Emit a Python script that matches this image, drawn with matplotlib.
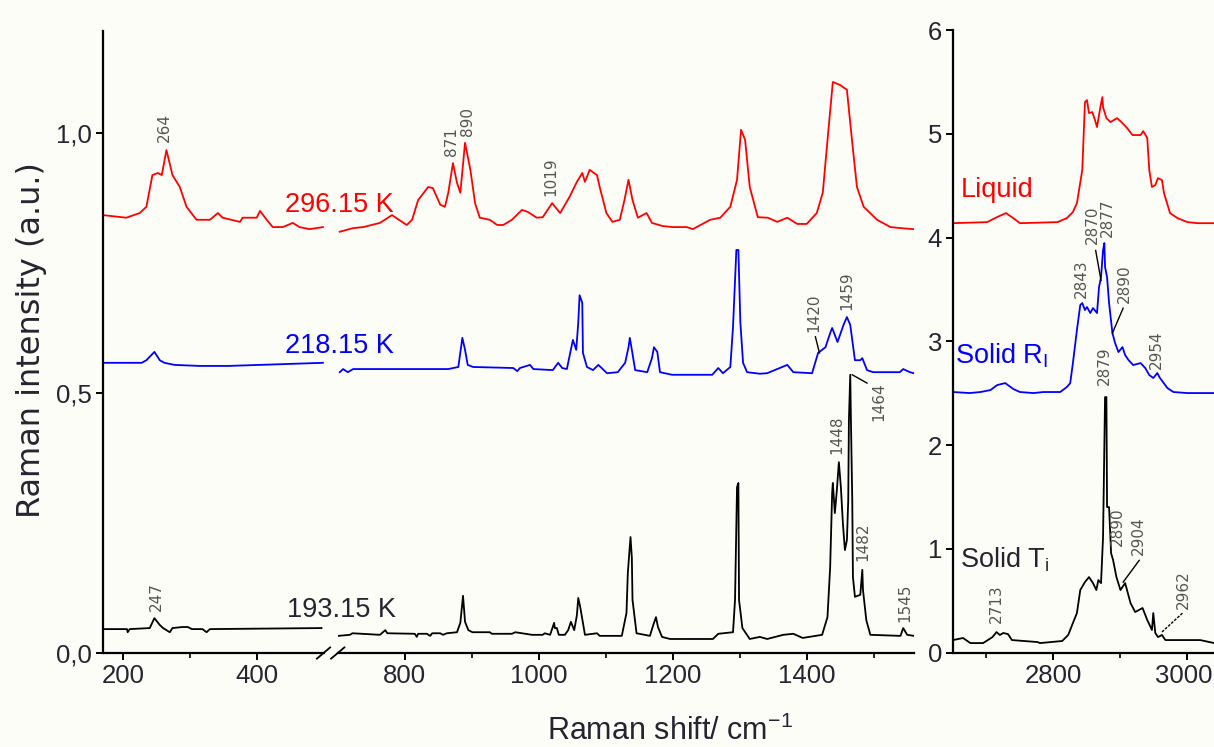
import matplotlib
matplotlib.use('Agg')
import matplotlib.pyplot as plt
import matplotlib.transforms as mtransforms
from matplotlib.ticker import FixedLocator, FuncFormatter

plt.rcParams['font.family'] = ['Liberation Sans', 'DejaVu Sans']

# ---- spectra, 296.15 K (liquid) ----
RED_LOW_X = [170, 205, 225, 235, 244, 252, 258, 265, 274, 285, 295, 310, 330,
             342, 349, 375, 379, 400, 405, 415, 424, 439, 454, 464, 479, 499]
RED_LOW_Y = [0.842, 0.837, 0.846, 0.858, 0.919, 0.923, 0.919, 0.967, 0.919, 0.896, 0.858, 0.833, 0.833,
             0.846, 0.837, 0.829, 0.837, 0.837, 0.850, 0.833, 0.819, 0.819, 0.827, 0.819, 0.815, 0.819]
RED_MID_X = [703, 723, 738, 763, 781, 803, 811, 820, 835, 842,
             853, 860, 865, 872, 878, 883, 890, 898, 905, 912,
             927, 938, 947, 960, 975, 984, 997, 1006, 1020, 1032,
             1046, 1057, 1065, 1069, 1076, 1087, 1091, 1101, 1110, 1121,
             1128, 1134, 1140, 1148, 1161, 1169, 1185, 1200, 1221, 1230,
             1256, 1271, 1286, 1296, 1302, 1308, 1315, 1327, 1342, 1356,
             1371, 1386, 1400, 1415, 1424, 1432, 1439, 1450, 1460, 1468,
             1475, 1485, 1505, 1525, 1540, 1560]
RED_MID_Y = [0.810, 0.817, 0.819, 0.827, 0.842, 0.823, 0.833, 0.871, 0.896, 0.894,
             0.862, 0.858, 0.885, 0.942, 0.904, 0.885, 0.981, 0.929, 0.865, 0.837,
             0.833, 0.823, 0.823, 0.833, 0.852, 0.848, 0.837, 0.838, 0.865, 0.846,
             0.877, 0.906, 0.923, 0.906, 0.929, 0.919, 0.896, 0.846, 0.829, 0.833,
             0.871, 0.910, 0.871, 0.837, 0.846, 0.827, 0.821, 0.819, 0.819, 0.815,
             0.833, 0.837, 0.858, 0.910, 1.006, 0.987, 0.896, 0.838, 0.837, 0.829,
             0.837, 0.825, 0.825, 0.846, 0.885, 1.000, 1.098, 1.092, 1.083, 0.981,
             0.896, 0.858, 0.833, 0.819, 0.817, 0.815]
RED_CH_X = [2650, 2701, 2716, 2729, 2740, 2750, 2806, 2820, 2829, 2835,
            2843, 2847, 2850, 2853, 2858, 2862, 2865, 2870, 2873, 2874,
            2879, 2885, 2895, 2903, 2910, 2918, 2930, 2934, 2940, 2943,
            2947, 2952, 2956, 2962, 2965, 2974, 2985, 3000, 3015, 3040]
RED_CH_Y = [4.139, 4.149, 4.198, 4.236, 4.188, 4.139, 4.149, 4.188, 4.246, 4.332,
            4.651, 5.306, 5.325, 5.200, 5.209, 5.132, 5.065, 5.257, 5.354, 5.257,
            5.151, 5.113, 5.151, 5.103, 5.055, 4.988, 4.988, 5.026, 4.959, 4.651,
            4.487, 4.506, 4.573, 4.554, 4.429, 4.236, 4.188, 4.149, 4.139, 4.139]

# ---- 218.15 K (solid RI) ----
BLUE_LOW_X = [170, 228, 235, 247, 255, 262, 277, 315, 337, 357, 499]
BLUE_LOW_Y = [0.558, 0.558, 0.563, 0.579, 0.563, 0.558, 0.554, 0.552, 0.552, 0.552, 0.558]
BLUE_MID_X = [703, 708, 715, 723, 865, 880, 886, 890, 894, 902,
              962, 968, 972, 987, 992, 1021, 1029, 1035, 1042, 1047,
              1051, 1056, 1059, 1061, 1065, 1066, 1072, 1081, 1089, 1102,
              1118, 1129, 1134, 1136, 1139, 1144, 1162, 1169, 1172, 1177,
              1181, 1199, 1259, 1268, 1275, 1286, 1290, 1295, 1298, 1301,
              1305, 1311, 1330, 1341, 1371, 1380, 1408, 1417, 1428, 1435,
              1438, 1446, 1455, 1460, 1465, 1472, 1480, 1483, 1490, 1499,
              1539, 1544, 1554, 1560]
BLUE_MID_Y = [0.540, 0.546, 0.540, 0.546, 0.546, 0.550, 0.606, 0.583, 0.554, 0.550,
              0.548, 0.542, 0.548, 0.554, 0.546, 0.544, 0.558, 0.548, 0.546, 0.577,
              0.602, 0.583, 0.635, 0.688, 0.673, 0.577, 0.550, 0.544, 0.554, 0.538,
              0.540, 0.558, 0.588, 0.606, 0.583, 0.544, 0.540, 0.567, 0.588, 0.579,
              0.540, 0.535, 0.535, 0.548, 0.538, 0.550, 0.627, 0.775, 0.775, 0.635,
              0.558, 0.540, 0.537, 0.538, 0.554, 0.540, 0.538, 0.577, 0.588, 0.615,
              0.625, 0.598, 0.631, 0.646, 0.631, 0.563, 0.563, 0.567, 0.544, 0.540,
              0.540, 0.546, 0.540, 0.538]
BLUE_CH_X = [2650, 2675, 2691, 2706, 2716, 2728, 2740, 2750, 2770, 2785,
             2810, 2820, 2825, 2829, 2835, 2840, 2843, 2847, 2850, 2855,
             2859, 2865, 2868, 2871, 2874, 2876, 2877, 2880, 2883, 2888,
             2892, 2897, 2903, 2907, 2912, 2919, 2930, 2937, 2943, 2949,
             2955, 2959, 2970, 2979, 3000, 3040]
BLUE_CH_Y = [2.512, 2.502, 2.512, 2.531, 2.579, 2.598, 2.541, 2.512, 2.502, 2.512,
             2.512, 2.560, 2.598, 2.791, 3.109, 3.350, 3.369, 3.302, 3.331, 3.273,
             3.321, 3.273, 3.523, 3.620, 3.880, 3.947, 3.716, 3.620, 3.369, 3.080,
             2.984, 2.897, 2.945, 2.868, 2.820, 2.772, 2.791, 2.743, 2.676, 2.647,
             2.695, 2.647, 2.551, 2.512, 2.502, 2.502]

# ---- 193.15 K (solid Ti) ----
BLACK_LOW_X = [170, 206, 207, 210, 240, 247, 255, 260, 270, 274, 289, 297, 303, 319, 325, 330, 497]
BLACK_LOW_Y = [0.046, 0.046, 0.040, 0.046, 0.048, 0.067, 0.054, 0.048, 0.040, 0.048,
               0.050, 0.050, 0.046, 0.046, 0.040, 0.046, 0.048]
BLACK_MID_X = [701, 718, 722, 763, 771, 774, 815, 818, 820, 833,
               838, 841, 853, 857, 863, 878, 883, 887, 890, 895,
               901, 927, 930, 960, 965, 990, 1006, 1009, 1017, 1023,
               1024, 1027, 1030, 1039, 1044, 1048, 1053, 1057, 1059, 1062,
               1066, 1069, 1087, 1091, 1124, 1131, 1133, 1137, 1139, 1140,
               1146, 1166, 1171, 1175, 1178, 1184, 1196, 1260, 1268, 1290,
               1293, 1296, 1298, 1299, 1304, 1315, 1330, 1341, 1365, 1380,
               1394, 1423, 1431, 1435, 1438, 1439, 1442, 1445, 1448, 1451,
               1454, 1457, 1460, 1462, 1463, 1465, 1466, 1468, 1469, 1472,
               1480, 1483, 1484, 1489, 1495, 1540, 1544, 1550, 1560]
BLACK_MID_Y = [0.033, 0.035, 0.038, 0.035, 0.044, 0.038, 0.037, 0.031, 0.037, 0.037,
               0.033, 0.038, 0.038, 0.035, 0.038, 0.040, 0.058, 0.110, 0.060, 0.044,
               0.040, 0.040, 0.037, 0.037, 0.040, 0.035, 0.035, 0.038, 0.035, 0.058,
               0.048, 0.048, 0.035, 0.035, 0.044, 0.060, 0.044, 0.073, 0.106, 0.088,
               0.058, 0.035, 0.038, 0.033, 0.033, 0.077, 0.154, 0.223, 0.183, 0.102,
               0.038, 0.033, 0.054, 0.069, 0.050, 0.031, 0.027, 0.027, 0.037, 0.040,
               0.102, 0.319, 0.327, 0.102, 0.048, 0.027, 0.031, 0.027, 0.035, 0.037,
               0.029, 0.035, 0.069, 0.165, 0.308, 0.327, 0.269, 0.313, 0.367, 0.319,
               0.250, 0.198, 0.217, 0.294, 0.448, 0.535, 0.448, 0.294, 0.146, 0.108,
               0.112, 0.160, 0.121, 0.063, 0.035, 0.033, 0.048, 0.035, 0.033]
BLACK_CH_X = [2650, 2665, 2676, 2695, 2709, 2715, 2720, 2725, 2732, 2738,
              2776, 2780, 2813, 2822, 2829, 2835, 2840, 2847, 2853, 2859,
              2864, 2867, 2871, 2874, 2877, 2879, 2880, 2883, 2886, 2889, 2894,
              2900, 2907, 2915, 2922, 2933, 2940, 2947, 2949, 2952, 2956,
              2962, 2967, 3019, 3040]
BLACK_CH_Y = [0.122, 0.142, 0.093, 0.093, 0.151, 0.199, 0.171, 0.190, 0.180, 0.122,
              0.103, 0.093, 0.113, 0.171, 0.286, 0.382, 0.604, 0.681, 0.729, 0.671,
              0.604, 0.700, 0.671, 1.115, 2.463, 2.463, 1.403, 1.403, 0.960, 0.893, 0.729,
              0.604, 0.671, 0.479, 0.392, 0.431, 0.315, 0.219, 0.382, 0.190, 0.151,
              0.171, 0.122, 0.122, 0.093]

# peak labels: (text, x, y)
PEAKS_LOW = [('264', 262, 1.010), ('247', 250, 0.108)]
PEAKS_MID = [('871', 870, 0.983), ('890', 893, 1.022), ('1019', 1018, 0.915),
             ('1420', 1410, 0.654), ('1459', 1460, 0.696), ('1448', 1445, 0.419),
             ('1464', 1508, 0.483), ('1482', 1484, 0.213), ('1545', 1547, 0.096)]
PEAKS_CH = [('2870', 2858, 4.12), ('2877', 2880, 4.19), ('2843', 2842, 3.60),
            ('2890', 2906, 3.56), ('2954', 2953, 2.92), ('2879', 2876, 2.77),
            ('2890', 2895, 1.21), ('2904', 2927, 1.13), ('2962', 2994, 0.61),
            ('2713', 2715, 0.47)]

RED = '#ff0000'
BLUE = '#0000ff'
BLACK = '#000000'
BG = '#fdfdf7'
TXT = '#262430'
GREY = '#555555'

fig = plt.figure(figsize=(12.14, 7.47), dpi=100, facecolor=BG)
ax1 = fig.add_axes([0.0848, 0.1258, 0.1817, 0.8327])
ax2 = fig.add_axes([0.2782, 0.1258, 0.4746, 0.8327])
ax3 = fig.add_axes([0.7850, 0.1262, 0.2152, 0.8336])

for ax in (ax1, ax2, ax3):
    ax.set_facecolor('none')
    for s in ('top', 'right'):
        ax.spines[s].set_visible(False)
    ax.spines['left'].set_linewidth(1.6)
    ax.spines['bottom'].set_linewidth(1.6)
    ax.tick_params(which='major', direction='out', length=5, width=1.4,
                   labelsize=18.5, labelcolor=TXT, pad=3)
    ax.tick_params(which='minor', direction='out', length=3.5, width=1.2)

ax2.spines['left'].set_visible(False)
ax2.tick_params(axis='y', which='both', left=False, labelleft=False)

lw = 1.3
ax1.plot(RED_LOW_X, RED_LOW_Y, color=RED, lw=lw)
ax1.plot(BLUE_LOW_X, BLUE_LOW_Y, color=BLUE, lw=lw)
ax1.plot(BLACK_LOW_X, BLACK_LOW_Y, color=BLACK, lw=lw)
ax2.plot(RED_MID_X, RED_MID_Y, color=RED, lw=lw)
ax2.plot(BLUE_MID_X, BLUE_MID_Y, color=BLUE, lw=lw)
ax2.plot(BLACK_MID_X, BLACK_MID_Y, color=BLACK, lw=lw)
ax3.plot(RED_CH_X, RED_CH_Y, color=RED, lw=lw)
ax3.plot(BLUE_CH_X, BLUE_CH_Y, color=BLUE, lw=lw)
ax3.plot(BLACK_CH_X, BLACK_CH_Y, color=BLACK, lw=lw)

ax1.set_xlim(170, 500)
ax2.set_xlim(700, 1560)
ax3.set_xlim(2650, 3040)
ax1.set_ylim(0, 1.196)
ax2.set_ylim(0, 1.196)
ax3.set_ylim(0, 6)

ax1.xaxis.set_major_locator(FixedLocator([200, 400]))
ax1.xaxis.set_minor_locator(FixedLocator([300]))
ax2.xaxis.set_major_locator(FixedLocator([800, 1000, 1200, 1400]))
ax2.xaxis.set_minor_locator(FixedLocator([900, 1100, 1300, 1500]))
ax3.xaxis.set_major_locator(FixedLocator([2800, 3000]))
ax3.xaxis.set_minor_locator(FixedLocator([2700, 2900]))
ax1.yaxis.set_major_locator(FixedLocator([0, 0.5, 1.0]))
ax1.yaxis.set_major_formatter(FuncFormatter(lambda v, p: f'{v:.1f}'.replace('.', ',')))
ax3.yaxis.set_major_locator(FixedLocator([0, 1, 2, 3, 4, 5, 6]))

# last tick label sits on the figure edge: nudge it a little left
last = ax3.xaxis.get_major_ticks()[-1].label1
last.set_transform(last.get_transform() +
                   mtransforms.ScaledTranslation(-4 / 100, 0, fig.dpi_scale_trans))

# break marks on the bottom axis
dy = 0.009
ax1.plot([1 - 0.03, 1 + 0.03], [-dy, dy], transform=ax1.transAxes,
         color='k', lw=1.3, clip_on=False)
ax2.plot([-0.0115, 0.0115], [-dy, dy], transform=ax2.transAxes,
         color='k', lw=1.3, clip_on=False)

# peak labels
for ax, peaks in ((ax1, PEAKS_LOW), (ax2, PEAKS_MID), (ax3, PEAKS_CH)):
    for s, x, y in peaks:
        ax.text(x, y, s, rotation=90, ha='center', va='center', fontsize=11,
                color=GREY, family='DejaVu Sans', clip_on=False)

# leader lines
ax2.plot([1413, 1419], [0.608, 0.577], color='k', lw=1)
ax2.plot([1468, 1490], [0.535, 0.519], color='k', lw=1)
ax3.plot([2863, 2871], [3.876, 3.587], color='k', lw=1)
ax3.plot([2888, 2904], [3.080, 3.320], color='k', lw=1)
ax3.plot([2904, 2928], [0.68, 0.89], color='k', lw=1)
ax3.plot([2962, 2994], [0.20, 0.39], color='k', lw=1, ls=(0, (2, 1)))

# series labels
ax1.text(442, 0.848, '296.15 K', color=RED, fontsize=19.5, clip_on=False)
ax1.text(442, 0.577, '218.15 K', color=BLUE, fontsize=19.5, clip_on=False)
ax1.text(445, 0.069, '193.15 K', color=TXT, fontsize=19.5, clip_on=False)
ax3.text(2661, 4.39, 'Liquid', color=RED, fontsize=19.5)
ax3.text(2653, 2.79, 'Solid R$_\\mathregular{I}$', color=BLUE, fontsize=19.5)
ax3.text(2661, 0.826, 'Solid T$_\\mathregular{i}$', color=TXT, fontsize=19.5)

fig.text(670 / 1214, 1 - 740 / 747, 'Raman shift/ cm$^{\\mathregular{-1}}$',
         ha='center', va='baseline', fontsize=22, color=TXT, family='Liberation Sans')
fig.text(32 / 1214, 1 - 340 / 747, 'Raman intensity (a.u.)', rotation=90,
         ha='center', va='center', fontsize=23, color=TXT, family='DejaVu Sans')

fig.savefig('out.png', dpi=100, facecolor=BG)
